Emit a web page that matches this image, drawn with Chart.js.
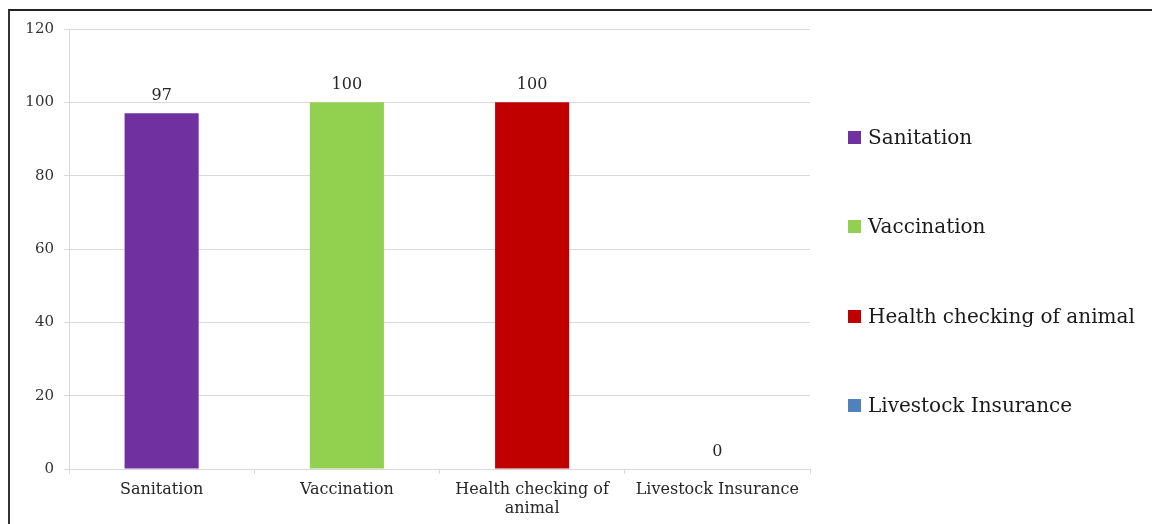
<!DOCTYPE html>
<html>
<head>
<meta charset="utf-8">
<script src="https://cdn.jsdelivr.net/npm/chart.js@4"></script>
<style>
  body { margin: 0; background: #fff; }
  #wrap { position: relative; width: 1152px; height: 524px; overflow: hidden; }
  #frame { position: absolute; left: 8px; top: 9px; right: -4px; bottom: -4px; border-top: 2px solid #222; border-left: 2px solid #333; }
  #chart { position: absolute; left: 0; top: 0; }
  #legend { position: absolute; left: 848px; top: 0; font-family: "DejaVu Serif", serif; font-size: 20px; color: #1a1a1a; }
  .item { position: absolute; left: 0; white-space: nowrap; display: flex; align-items: center; height: 24px; }
  .swatch { width: 13px; height: 13px; margin-right: 7px; }
</style>
</head>
<body>
<div id="wrap">
  <div id="frame"></div>
  <canvas id="chart" width="1152" height="524"></canvas>
  <div id="legend"></div>
</div>
<script>
// categories and values
const categories = ['Sanitation', 'Vaccination', 'Health checking of animal', 'Livestock Insurance'];
const tickLabels = ['Sanitation', 'Vaccination', ['Health checking of', 'animal'], 'Livestock Insurance'];
const values = [97, 100, 100, 0];
const barColors = ['#7030A0', '#92D050', '#C00000', '#4F81BD'];
const yMin = 0, yMax = 120, yStep = 20;

// legend centres (px from top)
const legendY = [137, 226, 316, 405];

const legendBox = document.querySelector('#legend');
categories.forEach((name, i) => {
    const item = document.createElement('div');
    item.className = 'item';
    item.style.top = (legendY[i] - 12) + 'px';
    item.innerHTML = '<span class="swatch" style="background:' + barColors[i] + '"></span>' + name;
    legendBox.appendChild(item);
});

// numbers above each bar
const valueLabels = {
    id: 'valueLabels',
    afterDatasetsDraw(chart) {
        const ctx = chart.ctx;
        const meta = chart.getDatasetMeta(0);
        ctx.save();
        ctx.font = '16px "DejaVu Serif"';
        ctx.fillStyle = '#262626';
        ctx.textAlign = 'center';
        ctx.textBaseline = 'middle';
        meta.data.forEach((bar, i) => {
            ctx.fillText(values[i], bar.x, bar.y - 17);
        });
        ctx.restore();
    }
};

const xFont = { family: '"DejaVu Serif", serif', size: 16 };
const yFont = { family: '"DejaVu Serif", serif', size: 15 };

const chart = new Chart(document.querySelector('#chart').getContext('2d'), {
    type: 'bar',
    data: {
        labels: tickLabels,
        datasets: [{
            data: values,
            backgroundColor: barColors,
            borderWidth: 0,
            barPercentage: 0.4,
            categoryPercentage: 1
        }]
    },
    options: {
        responsive: false,
        animation: false,
        layout: { padding: { left: 0, top: 29, right: 342, bottom: 0 } },
        plugins: {
            legend: { display: false },
            tooltip: { enabled: false }
        },
        scales: {
            x: {
                grid: { drawOnChartArea: false, color: '#d9d9d9', tickLength: 5 },
                border: { color: '#d9d9d9' },
                ticks: { font: xFont, color: '#262626', padding: 6, maxRotation: 0, autoSkip: false },
                afterFit(scale) { scale.height = 55; }
            },
            y: {
                min: yMin,
                max: yMax,
                ticks: { stepSize: yStep, font: yFont, color: '#333', padding: 10 },
                grid: { color: '#d9d9d9', tickLength: 5 },
                border: { color: '#d9d9d9' },
                afterFit(scale) { scale.width = 69; }
            }
        }
    },
    plugins: [valueLabels]
});
</script>
</body>
</html>
